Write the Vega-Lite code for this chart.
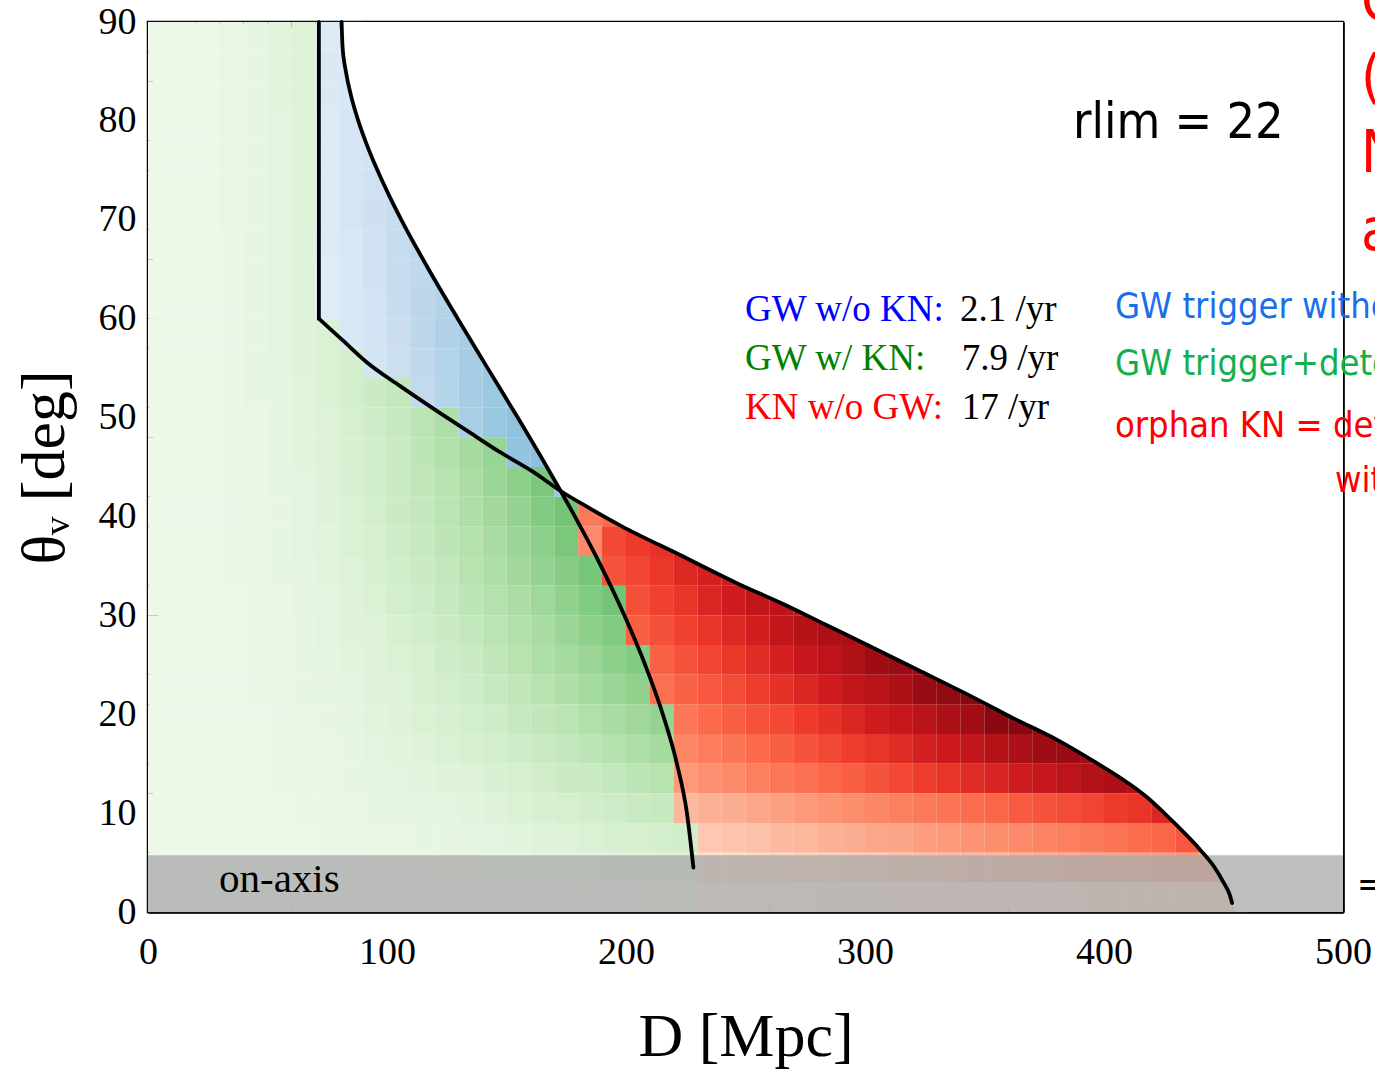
{
  "$schema": "https://vega.github.io/schema/vega-lite/v6.json",
  "width": 1195,
  "height": 890,
  "autosize": {"type": "none"},
  "padding": {"left": 148, "top": 22, "right": 32, "bottom": 169},
  "background": "white",
  "config": {
    "view": {"stroke": "black", "strokeWidth": 2.5},
    "axis": {
      "labelFont": "Liberation Serif",
      "labelFontSize": 38,
      "labelColor": "black",
      "titleFont": "Liberation Serif",
      "titleFontSize": 62,
      "titleFontWeight": "normal",
      "titleColor": "black",
      "tickColor": "black",
      "tickWidth": 1.5,
      "domain": true,
      "domainColor": "black",
      "domainWidth": 2.5,
      "zindex": 1,
      "grid": false,
      "labelOverlap": false
    }
  },
  "datasets": {
    "green": [
      {"d":5,"t":88.5,"v":3},{"d":15,"t":88.5,"v":3},{"d":25,"t":88.5,"v":4},{"d":35,"t":88.5,"v":6},{"d":45,"t":88.5,"v":7},{"d":55,"t":88.5,"v":10},{"d":65,"t":88.5,"v":12},
      {"d":5,"t":85.5,"v":3},{"d":15,"t":85.5,"v":3},{"d":25,"t":85.5,"v":4},{"d":35,"t":85.5,"v":6},{"d":45,"t":85.5,"v":7},{"d":55,"t":85.5,"v":10},{"d":65,"t":85.5,"v":12},
      {"d":5,"t":82.5,"v":3},{"d":15,"t":82.5,"v":3},{"d":25,"t":82.5,"v":4},{"d":35,"t":82.5,"v":6},{"d":45,"t":82.5,"v":7},{"d":55,"t":82.5,"v":10},{"d":65,"t":82.5,"v":12},
      {"d":5,"t":79.5,"v":3},{"d":15,"t":79.5,"v":3},{"d":25,"t":79.5,"v":4},{"d":35,"t":79.5,"v":6},{"d":45,"t":79.5,"v":7},{"d":55,"t":79.5,"v":9},{"d":65,"t":79.5,"v":12},
      {"d":5,"t":76.5,"v":3},{"d":15,"t":76.5,"v":3},{"d":25,"t":76.5,"v":4},{"d":35,"t":76.5,"v":6},{"d":45,"t":76.5,"v":7},{"d":55,"t":76.5,"v":9},{"d":65,"t":76.5,"v":12},
      {"d":5,"t":73.5,"v":3},{"d":15,"t":73.5,"v":3},{"d":25,"t":73.5,"v":4},{"d":35,"t":73.5,"v":6},{"d":45,"t":73.5,"v":7},{"d":55,"t":73.5,"v":9},{"d":65,"t":73.5,"v":12},
      {"d":5,"t":70.5,"v":3},{"d":15,"t":70.5,"v":3},{"d":25,"t":70.5,"v":4},{"d":35,"t":70.5,"v":6},{"d":45,"t":70.5,"v":7},{"d":55,"t":70.5,"v":9},{"d":65,"t":70.5,"v":12},
      {"d":5,"t":67.5,"v":3},{"d":15,"t":67.5,"v":3},{"d":25,"t":67.5,"v":4},{"d":35,"t":67.5,"v":5},{"d":45,"t":67.5,"v":7},{"d":55,"t":67.5,"v":9},{"d":65,"t":67.5,"v":11},
      {"d":5,"t":64.5,"v":3},{"d":15,"t":64.5,"v":3},{"d":25,"t":64.5,"v":4},{"d":35,"t":64.5,"v":5},{"d":45,"t":64.5,"v":7},{"d":55,"t":64.5,"v":9},{"d":65,"t":64.5,"v":11},
      {"d":5,"t":61.5,"v":3},{"d":15,"t":61.5,"v":3},{"d":25,"t":61.5,"v":4},{"d":35,"t":61.5,"v":5},{"d":45,"t":61.5,"v":7},{"d":55,"t":61.5,"v":9},{"d":65,"t":61.5,"v":11},
      {"d":5,"t":58.5,"v":3},{"d":15,"t":58.5,"v":3},{"d":25,"t":58.5,"v":4},{"d":35,"t":58.5,"v":5},{"d":45,"t":58.5,"v":7},{"d":55,"t":58.5,"v":9},{"d":65,"t":58.5,"v":11},{"d":75,"t":58.5,"v":13},
      {"d":5,"t":55.5,"v":3},{"d":15,"t":55.5,"v":3},{"d":25,"t":55.5,"v":4},{"d":35,"t":55.5,"v":5},{"d":45,"t":55.5,"v":7},{"d":55,"t":55.5,"v":8},{"d":65,"t":55.5,"v":11},{"d":75,"t":55.5,"v":13},{"d":85,"t":55.5,"v":16},
      {"d":5,"t":52.5,"v":3},{"d":15,"t":52.5,"v":3},{"d":25,"t":52.5,"v":4},{"d":35,"t":52.5,"v":5},{"d":45,"t":52.5,"v":7},{"d":55,"t":52.5,"v":8},{"d":65,"t":52.5,"v":10},{"d":75,"t":52.5,"v":13},{"d":85,"t":52.5,"v":16},{"d":95,"t":52.5,"v":19},{"d":105,"t":52.5,"v":22},
      {"d":5,"t":49.5,"v":3},{"d":15,"t":49.5,"v":3},{"d":25,"t":49.5,"v":4},{"d":35,"t":49.5,"v":5},{"d":45,"t":49.5,"v":6},{"d":55,"t":49.5,"v":8},{"d":65,"t":49.5,"v":10},{"d":75,"t":49.5,"v":12},{"d":85,"t":49.5,"v":15},{"d":95,"t":49.5,"v":18},{"d":105,"t":49.5,"v":21},{"d":115,"t":49.5,"v":25},{"d":125,"t":49.5,"v":29},
      {"d":5,"t":46.5,"v":3},{"d":15,"t":46.5,"v":3},{"d":25,"t":46.5,"v":4},{"d":35,"t":46.5,"v":5},{"d":45,"t":46.5,"v":6},{"d":55,"t":46.5,"v":8},{"d":65,"t":46.5,"v":10},{"d":75,"t":46.5,"v":12},{"d":85,"t":46.5,"v":14},{"d":95,"t":46.5,"v":17},{"d":105,"t":46.5,"v":20},{"d":115,"t":46.5,"v":24},{"d":125,"t":46.5,"v":28},{"d":135,"t":46.5,"v":32},{"d":145,"t":46.5,"v":36},
      {"d":5,"t":43.5,"v":3},{"d":15,"t":43.5,"v":3},{"d":25,"t":43.5,"v":4},{"d":35,"t":43.5,"v":5},{"d":45,"t":43.5,"v":6},{"d":55,"t":43.5,"v":8},{"d":65,"t":43.5,"v":9},{"d":75,"t":43.5,"v":11},{"d":85,"t":43.5,"v":14},{"d":95,"t":43.5,"v":17},{"d":105,"t":43.5,"v":20},{"d":115,"t":43.5,"v":23},{"d":125,"t":43.5,"v":26},{"d":135,"t":43.5,"v":30},{"d":145,"t":43.5,"v":35},{"d":155,"t":43.5,"v":39},{"d":165,"t":43.5,"v":44},
      {"d":5,"t":40.5,"v":3},{"d":15,"t":40.5,"v":3},{"d":25,"t":40.5,"v":4},{"d":35,"t":40.5,"v":5},{"d":45,"t":40.5,"v":6},{"d":55,"t":40.5,"v":7},{"d":65,"t":40.5,"v":9},{"d":75,"t":40.5,"v":11},{"d":85,"t":40.5,"v":13},{"d":95,"t":40.5,"v":16},{"d":105,"t":40.5,"v":19},{"d":115,"t":40.5,"v":22},{"d":125,"t":40.5,"v":25},{"d":135,"t":40.5,"v":29},{"d":145,"t":40.5,"v":33},{"d":155,"t":40.5,"v":37},{"d":165,"t":40.5,"v":42},{"d":175,"t":40.5,"v":46},
      {"d":5,"t":37.5,"v":3},{"d":15,"t":37.5,"v":3},{"d":25,"t":37.5,"v":4},{"d":35,"t":37.5,"v":5},{"d":45,"t":37.5,"v":6},{"d":55,"t":37.5,"v":7},{"d":65,"t":37.5,"v":9},{"d":75,"t":37.5,"v":10},{"d":85,"t":37.5,"v":13},{"d":95,"t":37.5,"v":15},{"d":105,"t":37.5,"v":18},{"d":115,"t":37.5,"v":21},{"d":125,"t":37.5,"v":24},{"d":135,"t":37.5,"v":27},{"d":145,"t":37.5,"v":31},{"d":155,"t":37.5,"v":35},{"d":165,"t":37.5,"v":39},{"d":175,"t":37.5,"v":44},
      {"d":5,"t":34.5,"v":3},{"d":15,"t":34.5,"v":3},{"d":25,"t":34.5,"v":4},{"d":35,"t":34.5,"v":5},{"d":45,"t":34.5,"v":6},{"d":55,"t":34.5,"v":7},{"d":65,"t":34.5,"v":8},{"d":75,"t":34.5,"v":10},{"d":85,"t":34.5,"v":12},{"d":95,"t":34.5,"v":14},{"d":105,"t":34.5,"v":17},{"d":115,"t":34.5,"v":19},{"d":125,"t":34.5,"v":22},{"d":135,"t":34.5,"v":26},{"d":145,"t":34.5,"v":29},{"d":155,"t":34.5,"v":33},{"d":165,"t":34.5,"v":37},{"d":175,"t":34.5,"v":41},{"d":185,"t":34.5,"v":45},
      {"d":5,"t":31.5,"v":3},{"d":15,"t":31.5,"v":3},{"d":25,"t":31.5,"v":4},{"d":35,"t":31.5,"v":4},{"d":45,"t":31.5,"v":5},{"d":55,"t":31.5,"v":6},{"d":65,"t":31.5,"v":8},{"d":75,"t":31.5,"v":9},{"d":85,"t":31.5,"v":11},{"d":95,"t":31.5,"v":13},{"d":105,"t":31.5,"v":16},{"d":115,"t":31.5,"v":18},{"d":125,"t":31.5,"v":21},{"d":135,"t":31.5,"v":24},{"d":145,"t":31.5,"v":27},{"d":155,"t":31.5,"v":30},{"d":165,"t":31.5,"v":34},{"d":175,"t":31.5,"v":38},{"d":185,"t":31.5,"v":42},{"d":195,"t":31.5,"v":46},
      {"d":5,"t":28.5,"v":3},{"d":15,"t":28.5,"v":3},{"d":25,"t":28.5,"v":4},{"d":35,"t":28.5,"v":4},{"d":45,"t":28.5,"v":5},{"d":55,"t":28.5,"v":6},{"d":65,"t":28.5,"v":7},{"d":75,"t":28.5,"v":9},{"d":85,"t":28.5,"v":11},{"d":95,"t":28.5,"v":12},{"d":105,"t":28.5,"v":14},{"d":115,"t":28.5,"v":17},{"d":125,"t":28.5,"v":19},{"d":135,"t":28.5,"v":22},{"d":145,"t":28.5,"v":25},{"d":155,"t":28.5,"v":28},{"d":165,"t":28.5,"v":31},{"d":175,"t":28.5,"v":35},{"d":185,"t":28.5,"v":39},{"d":195,"t":28.5,"v":42},
      {"d":5,"t":25.5,"v":3},{"d":15,"t":25.5,"v":3},{"d":25,"t":25.5,"v":4},{"d":35,"t":25.5,"v":4},{"d":45,"t":25.5,"v":5},{"d":55,"t":25.5,"v":6},{"d":65,"t":25.5,"v":7},{"d":75,"t":25.5,"v":8},{"d":85,"t":25.5,"v":10},{"d":95,"t":25.5,"v":11},{"d":105,"t":25.5,"v":13},{"d":115,"t":25.5,"v":15},{"d":125,"t":25.5,"v":18},{"d":135,"t":25.5,"v":20},{"d":145,"t":25.5,"v":23},{"d":155,"t":25.5,"v":26},{"d":165,"t":25.5,"v":29},{"d":175,"t":25.5,"v":32},{"d":185,"t":25.5,"v":35},{"d":195,"t":25.5,"v":39},{"d":205,"t":25.5,"v":42},
      {"d":5,"t":22.5,"v":3},{"d":15,"t":22.5,"v":3},{"d":25,"t":22.5,"v":4},{"d":35,"t":22.5,"v":4},{"d":45,"t":22.5,"v":5},{"d":55,"t":22.5,"v":6},{"d":65,"t":22.5,"v":7},{"d":75,"t":22.5,"v":8},{"d":85,"t":22.5,"v":9},{"d":95,"t":22.5,"v":11},{"d":105,"t":22.5,"v":12},{"d":115,"t":22.5,"v":14},{"d":125,"t":22.5,"v":16},{"d":135,"t":22.5,"v":18},{"d":145,"t":22.5,"v":21},{"d":155,"t":22.5,"v":23},{"d":165,"t":22.5,"v":26},{"d":175,"t":22.5,"v":29},{"d":185,"t":22.5,"v":32},{"d":195,"t":22.5,"v":35},{"d":205,"t":22.5,"v":38},
      {"d":5,"t":19.5,"v":3},{"d":15,"t":19.5,"v":3},{"d":25,"t":19.5,"v":3},{"d":35,"t":19.5,"v":4},{"d":45,"t":19.5,"v":4},{"d":55,"t":19.5,"v":5},{"d":65,"t":19.5,"v":6},{"d":75,"t":19.5,"v":7},{"d":85,"t":19.5,"v":8},{"d":95,"t":19.5,"v":10},{"d":105,"t":19.5,"v":11},{"d":115,"t":19.5,"v":13},{"d":125,"t":19.5,"v":14},{"d":135,"t":19.5,"v":16},{"d":145,"t":19.5,"v":18},{"d":155,"t":19.5,"v":21},{"d":165,"t":19.5,"v":23},{"d":175,"t":19.5,"v":25},{"d":185,"t":19.5,"v":28},{"d":195,"t":19.5,"v":31},{"d":205,"t":19.5,"v":34},{"d":215,"t":19.5,"v":37},
      {"d":5,"t":16.5,"v":3},{"d":15,"t":16.5,"v":3},{"d":25,"t":16.5,"v":3},{"d":35,"t":16.5,"v":4},{"d":45,"t":16.5,"v":4},{"d":55,"t":16.5,"v":5},{"d":65,"t":16.5,"v":6},{"d":75,"t":16.5,"v":6},{"d":85,"t":16.5,"v":7},{"d":95,"t":16.5,"v":9},{"d":105,"t":16.5,"v":10},{"d":115,"t":16.5,"v":11},{"d":125,"t":16.5,"v":13},{"d":135,"t":16.5,"v":14},{"d":145,"t":16.5,"v":16},{"d":155,"t":16.5,"v":18},{"d":165,"t":16.5,"v":20},{"d":175,"t":16.5,"v":22},{"d":185,"t":16.5,"v":24},{"d":195,"t":16.5,"v":27},{"d":205,"t":16.5,"v":29},{"d":215,"t":16.5,"v":32},
      {"d":5,"t":13.5,"v":3},{"d":15,"t":13.5,"v":3},{"d":25,"t":13.5,"v":3},{"d":35,"t":13.5,"v":4},{"d":45,"t":13.5,"v":4},{"d":55,"t":13.5,"v":5},{"d":65,"t":13.5,"v":5},{"d":75,"t":13.5,"v":6},{"d":85,"t":13.5,"v":7},{"d":95,"t":13.5,"v":8},{"d":105,"t":13.5,"v":9},{"d":115,"t":13.5,"v":10},{"d":125,"t":13.5,"v":11},{"d":135,"t":13.5,"v":12},{"d":145,"t":13.5,"v":14},{"d":155,"t":13.5,"v":15},{"d":165,"t":13.5,"v":17},{"d":175,"t":13.5,"v":19},{"d":185,"t":13.5,"v":20},{"d":195,"t":13.5,"v":22},{"d":205,"t":13.5,"v":24},{"d":215,"t":13.5,"v":26},
      {"d":5,"t":10.5,"v":3},{"d":15,"t":10.5,"v":3},{"d":25,"t":10.5,"v":3},{"d":35,"t":10.5,"v":3},{"d":45,"t":10.5,"v":4},{"d":55,"t":10.5,"v":4},{"d":65,"t":10.5,"v":5},{"d":75,"t":10.5,"v":5},{"d":85,"t":10.5,"v":6},{"d":95,"t":10.5,"v":7},{"d":105,"t":10.5,"v":7},{"d":115,"t":10.5,"v":8},{"d":125,"t":10.5,"v":9},{"d":135,"t":10.5,"v":10},{"d":145,"t":10.5,"v":11},{"d":155,"t":10.5,"v":13},{"d":165,"t":10.5,"v":14},{"d":175,"t":10.5,"v":15},{"d":185,"t":10.5,"v":17},{"d":195,"t":10.5,"v":18},{"d":205,"t":10.5,"v":20},{"d":215,"t":10.5,"v":21},
      {"d":5,"t":7.5,"v":3},{"d":15,"t":7.5,"v":3},{"d":25,"t":7.5,"v":3},{"d":35,"t":7.5,"v":3},{"d":45,"t":7.5,"v":4},{"d":55,"t":7.5,"v":4},{"d":65,"t":7.5,"v":4},{"d":75,"t":7.5,"v":5},{"d":85,"t":7.5,"v":5},{"d":95,"t":7.5,"v":6},{"d":105,"t":7.5,"v":6},{"d":115,"t":7.5,"v":7},{"d":125,"t":7.5,"v":7},{"d":135,"t":7.5,"v":8},{"d":145,"t":7.5,"v":9},{"d":155,"t":7.5,"v":10},{"d":165,"t":7.5,"v":11},{"d":175,"t":7.5,"v":12},{"d":185,"t":7.5,"v":13},{"d":195,"t":7.5,"v":14},{"d":205,"t":7.5,"v":15},{"d":215,"t":7.5,"v":16},{"d":225,"t":7.5,"v":17},
      {"d":5,"t":4.5,"v":3},{"d":15,"t":4.5,"v":3},{"d":25,"t":4.5,"v":3},{"d":35,"t":4.5,"v":3},{"d":45,"t":4.5,"v":3},{"d":55,"t":4.5,"v":4},{"d":65,"t":4.5,"v":4},{"d":75,"t":4.5,"v":4},{"d":85,"t":4.5,"v":4},{"d":95,"t":4.5,"v":5},{"d":105,"t":4.5,"v":5},{"d":115,"t":4.5,"v":5},{"d":125,"t":4.5,"v":6},{"d":135,"t":4.5,"v":6},{"d":145,"t":4.5,"v":7},{"d":155,"t":4.5,"v":7},{"d":165,"t":4.5,"v":8},{"d":175,"t":4.5,"v":8},{"d":185,"t":4.5,"v":9},{"d":195,"t":4.5,"v":10},{"d":205,"t":4.5,"v":10},{"d":215,"t":4.5,"v":11},{"d":225,"t":4.5,"v":12},
      {"d":5,"t":1.5,"v":3},{"d":15,"t":1.5,"v":3},{"d":25,"t":1.5,"v":3},{"d":35,"t":1.5,"v":3},{"d":45,"t":1.5,"v":3},{"d":55,"t":1.5,"v":3},{"d":65,"t":1.5,"v":3},{"d":75,"t":1.5,"v":3},{"d":85,"t":1.5,"v":3},{"d":95,"t":1.5,"v":4},{"d":105,"t":1.5,"v":4},{"d":115,"t":1.5,"v":4},{"d":125,"t":1.5,"v":4},{"d":135,"t":1.5,"v":4},{"d":145,"t":1.5,"v":4},{"d":155,"t":1.5,"v":4},{"d":165,"t":1.5,"v":5},{"d":175,"t":1.5,"v":5},{"d":185,"t":1.5,"v":5},{"d":195,"t":1.5,"v":5},{"d":205,"t":1.5,"v":5},{"d":215,"t":1.5,"v":6},{"d":225,"t":1.5,"v":6}
    ],
    "blue": [
      {"d":75,"t":88.5,"v":13},{"d":85,"t":88.5,"v":14},
      {"d":75,"t":85.5,"v":14},{"d":85,"t":85.5,"v":15},
      {"d":75,"t":82.5,"v":14},{"d":85,"t":82.5,"v":16},
      {"d":75,"t":79.5,"v":13},{"d":85,"t":79.5,"v":17},{"d":95,"t":79.5,"v":18},
      {"d":75,"t":76.5,"v":13},{"d":85,"t":76.5,"v":17},{"d":95,"t":76.5,"v":19},
      {"d":75,"t":73.5,"v":13},{"d":85,"t":73.5,"v":17},{"d":95,"t":73.5,"v":20},{"d":105,"t":73.5,"v":22},
      {"d":75,"t":70.5,"v":13},{"d":85,"t":70.5,"v":17},{"d":95,"t":70.5,"v":21},{"d":105,"t":70.5,"v":24},
      {"d":75,"t":67.5,"v":13},{"d":85,"t":67.5,"v":16},{"d":95,"t":67.5,"v":20},{"d":105,"t":67.5,"v":24},{"d":115,"t":67.5,"v":27},
      {"d":75,"t":64.5,"v":12},{"d":85,"t":64.5,"v":16},{"d":95,"t":64.5,"v":20},{"d":105,"t":64.5,"v":24},{"d":115,"t":64.5,"v":27},{"d":125,"t":64.5,"v":30},
      {"d":75,"t":61.5,"v":12},{"d":85,"t":61.5,"v":15},{"d":95,"t":61.5,"v":19},{"d":105,"t":61.5,"v":24},{"d":115,"t":61.5,"v":28},{"d":125,"t":61.5,"v":31},
      {"d":85,"t":58.5,"v":15},{"d":95,"t":58.5,"v":19},{"d":105,"t":58.5,"v":23},{"d":115,"t":58.5,"v":28},{"d":125,"t":58.5,"v":32},{"d":135,"t":58.5,"v":35},
      {"d":95,"t":55.5,"v":18},{"d":105,"t":55.5,"v":22},{"d":115,"t":55.5,"v":27},{"d":125,"t":55.5,"v":31},{"d":135,"t":55.5,"v":35},{"d":145,"t":55.5,"v":38},
      {"d":115,"t":52.5,"v":26},{"d":125,"t":52.5,"v":30},{"d":135,"t":52.5,"v":35},{"d":145,"t":52.5,"v":38},{"d":155,"t":52.5,"v":40},
      {"d":135,"t":49.5,"v":34},{"d":145,"t":49.5,"v":39},{"d":155,"t":49.5,"v":41},
      {"d":155,"t":46.5,"v":40},{"d":165,"t":46.5,"v":42},
      {"d":175,"t":43.5,"v":38}
    ],
    "red": [
      {"d":185,"t":40.5,"v":45},{"d":195,"t":40.5,"v":50},
      {"d":185,"t":37.5,"v":40},{"d":195,"t":37.5,"v":59},{"d":205,"t":37.5,"v":63},{"d":215,"t":37.5,"v":66},{"d":225,"t":37.5,"v":68},
      {"d":195,"t":34.5,"v":56},{"d":205,"t":34.5,"v":60},{"d":215,"t":34.5,"v":64},{"d":225,"t":34.5,"v":69},{"d":235,"t":34.5,"v":72},{"d":245,"t":34.5,"v":74},
      {"d":205,"t":31.5,"v":57},{"d":215,"t":31.5,"v":61},{"d":225,"t":31.5,"v":65},{"d":235,"t":31.5,"v":70},{"d":245,"t":31.5,"v":74},{"d":255,"t":31.5,"v":78},{"d":265,"t":31.5,"v":80},{"d":275,"t":31.5,"v":80},
      {"d":205,"t":28.5,"v":53},{"d":215,"t":28.5,"v":57},{"d":225,"t":28.5,"v":61},{"d":235,"t":28.5,"v":65},{"d":245,"t":28.5,"v":69},{"d":255,"t":28.5,"v":73},{"d":265,"t":28.5,"v":78},{"d":275,"t":28.5,"v":82},{"d":285,"t":28.5,"v":85},{"d":295,"t":28.5,"v":86},{"d":305,"t":28.5,"v":86},
      {"d":215,"t":25.5,"v":52},{"d":225,"t":25.5,"v":56},{"d":235,"t":25.5,"v":60},{"d":245,"t":25.5,"v":64},{"d":255,"t":25.5,"v":68},{"d":265,"t":25.5,"v":72},{"d":275,"t":25.5,"v":76},{"d":285,"t":25.5,"v":80},{"d":295,"t":25.5,"v":84},{"d":305,"t":25.5,"v":89},{"d":315,"t":25.5,"v":90},{"d":325,"t":25.5,"v":90},
      {"d":215,"t":22.5,"v":48},{"d":225,"t":22.5,"v":52},{"d":235,"t":22.5,"v":55},{"d":245,"t":22.5,"v":58},{"d":255,"t":22.5,"v":62},{"d":265,"t":22.5,"v":66},{"d":275,"t":22.5,"v":70},{"d":285,"t":22.5,"v":74},{"d":295,"t":22.5,"v":78},{"d":305,"t":22.5,"v":81},{"d":315,"t":22.5,"v":85},{"d":325,"t":22.5,"v":90},{"d":335,"t":22.5,"v":92},{"d":345,"t":22.5,"v":93},{"d":355,"t":22.5,"v":92},
      {"d":225,"t":19.5,"v":46},{"d":235,"t":19.5,"v":50},{"d":245,"t":19.5,"v":53},{"d":255,"t":19.5,"v":56},{"d":265,"t":19.5,"v":59},{"d":275,"t":19.5,"v":63},{"d":285,"t":19.5,"v":66},{"d":295,"t":19.5,"v":70},{"d":305,"t":19.5,"v":74},{"d":315,"t":19.5,"v":77},{"d":325,"t":19.5,"v":81},{"d":335,"t":19.5,"v":85},{"d":345,"t":19.5,"v":88},{"d":355,"t":19.5,"v":93},{"d":365,"t":19.5,"v":93},{"d":375,"t":19.5,"v":92},
      {"d":225,"t":16.5,"v":41},{"d":235,"t":16.5,"v":44},{"d":245,"t":16.5,"v":47},{"d":255,"t":16.5,"v":50},{"d":265,"t":16.5,"v":53},{"d":275,"t":16.5,"v":56},{"d":285,"t":16.5,"v":59},{"d":295,"t":16.5,"v":62},{"d":305,"t":16.5,"v":65},{"d":315,"t":16.5,"v":68},{"d":325,"t":16.5,"v":72},{"d":335,"t":16.5,"v":75},{"d":345,"t":16.5,"v":78},{"d":355,"t":16.5,"v":82},{"d":365,"t":16.5,"v":85},{"d":375,"t":16.5,"v":89},{"d":385,"t":16.5,"v":90},{"d":395,"t":16.5,"v":88},
      {"d":225,"t":13.5,"v":35},{"d":235,"t":13.5,"v":38},{"d":245,"t":13.5,"v":40},{"d":255,"t":13.5,"v":43},{"d":265,"t":13.5,"v":46},{"d":275,"t":13.5,"v":48},{"d":285,"t":13.5,"v":51},{"d":295,"t":13.5,"v":53},{"d":305,"t":13.5,"v":56},{"d":315,"t":13.5,"v":59},{"d":325,"t":13.5,"v":62},{"d":335,"t":13.5,"v":65},{"d":345,"t":13.5,"v":68},{"d":355,"t":13.5,"v":71},{"d":365,"t":13.5,"v":74},{"d":375,"t":13.5,"v":77},{"d":385,"t":13.5,"v":80},{"d":395,"t":13.5,"v":83},{"d":405,"t":13.5,"v":85},{"d":415,"t":13.5,"v":84},
      {"d":225,"t":10.5,"v":26},{"d":235,"t":10.5,"v":28},{"d":245,"t":10.5,"v":29},{"d":255,"t":10.5,"v":31},{"d":265,"t":10.5,"v":33},{"d":275,"t":10.5,"v":35},{"d":285,"t":10.5,"v":37},{"d":295,"t":10.5,"v":39},{"d":305,"t":10.5,"v":41},{"d":315,"t":10.5,"v":43},{"d":325,"t":10.5,"v":45},{"d":335,"t":10.5,"v":47},{"d":345,"t":10.5,"v":49},{"d":355,"t":10.5,"v":51},{"d":365,"t":10.5,"v":54},{"d":375,"t":10.5,"v":56},{"d":385,"t":10.5,"v":58},{"d":395,"t":10.5,"v":60},{"d":405,"t":10.5,"v":63},{"d":415,"t":10.5,"v":65},{"d":425,"t":10.5,"v":70},
      {"d":235,"t":7.5,"v":21},{"d":245,"t":7.5,"v":22},{"d":255,"t":7.5,"v":23},{"d":265,"t":7.5,"v":25},{"d":275,"t":7.5,"v":26},{"d":285,"t":7.5,"v":28},{"d":295,"t":7.5,"v":29},{"d":305,"t":7.5,"v":31},{"d":315,"t":7.5,"v":32},{"d":325,"t":7.5,"v":34},{"d":335,"t":7.5,"v":35},{"d":345,"t":7.5,"v":37},{"d":355,"t":7.5,"v":39},{"d":365,"t":7.5,"v":40},{"d":375,"t":7.5,"v":42},{"d":385,"t":7.5,"v":43},{"d":395,"t":7.5,"v":45},{"d":405,"t":7.5,"v":47},{"d":415,"t":7.5,"v":49},{"d":425,"t":7.5,"v":51},{"d":435,"t":7.5,"v":55},{"d":445,"t":7.5,"v":55},
      {"d":235,"t":4.5,"v":14},{"d":245,"t":4.5,"v":15},{"d":255,"t":4.5,"v":16},{"d":265,"t":4.5,"v":17},{"d":275,"t":4.5,"v":18},{"d":285,"t":4.5,"v":19},{"d":295,"t":4.5,"v":20},{"d":305,"t":4.5,"v":21},{"d":315,"t":4.5,"v":23},{"d":325,"t":4.5,"v":23},{"d":335,"t":4.5,"v":25},{"d":345,"t":4.5,"v":26},{"d":355,"t":4.5,"v":26},{"d":365,"t":4.5,"v":28},{"d":375,"t":4.5,"v":29},{"d":385,"t":4.5,"v":30},{"d":395,"t":4.5,"v":31},{"d":405,"t":4.5,"v":32},{"d":415,"t":4.5,"v":33},{"d":425,"t":4.5,"v":34},{"d":435,"t":4.5,"v":36},{"d":445,"t":4.5,"v":34},
      {"d":235,"t":1.5,"v":6},{"d":245,"t":1.5,"v":7},{"d":255,"t":1.5,"v":7},{"d":265,"t":1.5,"v":8},{"d":275,"t":1.5,"v":8},{"d":285,"t":1.5,"v":9},{"d":295,"t":1.5,"v":9},{"d":305,"t":1.5,"v":9},{"d":315,"t":1.5,"v":10},{"d":325,"t":1.5,"v":10},{"d":335,"t":1.5,"v":11},{"d":345,"t":1.5,"v":11},{"d":355,"t":1.5,"v":11},{"d":365,"t":1.5,"v":12},{"d":375,"t":1.5,"v":12},{"d":385,"t":1.5,"v":13},{"d":395,"t":1.5,"v":14},{"d":405,"t":1.5,"v":14},{"d":415,"t":1.5,"v":14},{"d":425,"t":1.5,"v":15},{"d":435,"t":1.5,"v":16},{"d":445,"t":1.5,"v":16},{"d":455,"t":1.5,"v":16}
    ],
    "mask": [
      {"t":0,"d":455,"d2":500},{"t":0.9,"d":453.6,"d2":500},{"t":1.8,"d":452.5,"d2":500},{"t":3.0,"d":450,"d2":500},{"t":4.6,"d":446,"d2":500},{"t":6.3,"d":440.2,"d2":500},{"t":7.9,"d":434,"d2":500},{"t":10.0,"d":425.2,"d2":500},{"t":11.6,"d":418,"d2":500},{"t":13.0,"d":410.3,"d2":500},{"t":15.3,"d":395.3,"d2":500},{"t":17.4,"d":380.4,"d2":500},{"t":19.6,"d":362,"d2":500},{"t":21.8,"d":344.5,"d2":500},{"t":24.5,"d":322,"d2":500},{"t":26.8,"d":302.7,"d2":500},{"t":29.0,"d":284,"d2":500},{"t":31.2,"d":265.3,"d2":500},{"t":33.1,"d":247.7,"d2":500},{"t":36.1,"d":222.6,"d2":500},{"t":39.1,"d":197.5,"d2":500},{"t":40.8,"d":185,"d2":500},{"t":42.6,"d":172.6,"d2":500},{"t":45,"d":166.9,"d2":500},{"t":50,"d":154.7,"d2":500},{"t":55,"d":142.1,"d2":500},{"t":60,"d":129.6,"d2":500},{"t":65,"d":117.4,"d2":500},{"t":70,"d":106.0,"d2":500},{"t":72.5,"d":100.8,"d2":500},{"t":75,"d":96.0,"d2":500},{"t":77.5,"d":91.7,"d2":500},{"t":80,"d":88.0,"d2":500},{"t":82.5,"d":85.0,"d2":500},{"t":85,"d":82.8,"d2":500},{"t":87.5,"d":81.4,"d2":500},{"t":90,"d":81.0,"d2":500}
    ],
    "vert": [{"i":0,"d":71.5,"t":90},{"i":1,"d":71.5,"t":60}],
    "kn": [
      {"i":0,"d":71.5,"t":60},{"i":1,"d":81.5,"t":57.8},{"i":2,"d":91.5,"t":55.6},{"i":3,"d":105.4,"t":53.2},{"i":4,"d":119.4,"t":50.9},{"i":5,"d":133.3,"t":48.7},{"i":6,"d":147.3,"t":46.5},{"i":7,"d":161.2,"t":44.5},{"i":8,"d":172.5,"t":42.6},{"i":9,"d":185,"t":40.8},{"i":10,"d":197.5,"t":39.1},{"i":11,"d":222.6,"t":36.1},{"i":12,"d":247.7,"t":33.1},{"i":13,"d":265.3,"t":31.2},{"i":14,"d":284,"t":29.0},{"i":15,"d":302.7,"t":26.8},{"i":16,"d":322,"t":24.5},{"i":17,"d":344.5,"t":21.8},{"i":18,"d":362,"t":19.6},{"i":19,"d":380.4,"t":17.4},{"i":20,"d":395.3,"t":15.3},{"i":21,"d":410.3,"t":13.0},{"i":22,"d":418,"t":11.6},{"i":23,"d":425.2,"t":10.0},{"i":24,"d":434,"t":7.9},{"i":25,"d":440.2,"t":6.3},{"i":26,"d":446,"t":4.6},{"i":27,"d":450,"t":3.0},{"i":28,"d":452.5,"t":1.8},{"i":29,"d":453.6,"t":0.9}
    ],
    "gw": [
      {"i":0,"d":81.0,"t":90},{"i":1,"d":81.4,"t":87.5},{"i":2,"d":82.8,"t":85},{"i":3,"d":85.0,"t":82.5},{"i":4,"d":88.0,"t":80},{"i":5,"d":91.7,"t":77.5},{"i":6,"d":96.0,"t":75},{"i":7,"d":100.8,"t":72.5},{"i":8,"d":106.0,"t":70},{"i":9,"d":117.4,"t":65},{"i":10,"d":129.6,"t":60},{"i":11,"d":142.1,"t":55},{"i":12,"d":154.7,"t":50},{"i":13,"d":166.9,"t":45},{"i":14,"d":178.6,"t":40},{"i":15,"d":189.5,"t":35},{"i":16,"d":199.3,"t":30},{"i":17,"d":208.0,"t":25},{"i":18,"d":215.4,"t":20},{"i":19,"d":221.3,"t":15},{"i":20,"d":225.5,"t":10},{"i":21,"d":228.2,"t":4.5}
    ]
  },
  "resolve": {"axis": {"x": "independent", "y": "independent"}},
  "layer": [
    {
      "encoding": {
        "x": {"field": "d", "type": "quantitative", "scale": {"domain": [0, 500], "nice": false, "zero": false},
              "axis": {"orient": "top", "values": [0,20,40,60,80,100,120,140,160,180,200,220,240,260,280,300,320,340,360,380,400,420,440,460,480,500], "labels": false, "title": null,
                       "tickSize": {"condition": {"test": "datum.value % 100 === 0", "value": -10}, "value": -5}}},
        "y": {"field": "t", "type": "quantitative", "scale": {"domain": [0, 90], "nice": false, "zero": false},
              "axis": {"orient": "right", "values": [0,2,4,6,8,10,12,14,16,18,20,22,24,26,28,30,32,34,36,38,40,42,44,46,48,50,52,54,56,58,60,62,64,66,68,70,72,74,76,78,80,82,84,86,88,90], "labels": false, "title": null,
                       "tickSize": {"condition": {"test": "datum.value % 10 === 0", "value": -10}, "value": -5}}}
      },
      "resolve": {"scale": {"color": "independent"}},
      "layer": [
        {"data": {"name": "green"},
         "mark": {"type": "point", "shape": "M-1,-1.2414H1V1.2414H-1Z", "size": 576, "filled": true, "opacity": 1, "strokeWidth": 0},
         "encoding": {"color": {"field": "v", "type": "quantitative", "legend": null,
           "scale": {"domain": [-4,8.5,21,33.5,46,58.5,71,83.5,96], "range": ["#f7fcf5","#e5f5e0","#c7e9c0","#a1d99b","#74c476","#41ab5d","#238b45","#006d2c","#00441b"], "interpolate": "rgb"}}}},
        {"data": {"name": "blue"},
         "mark": {"type": "point", "shape": "M-1,-1.2414H1V1.2414H-1Z", "size": 576, "filled": true, "opacity": 1, "strokeWidth": 0},
         "encoding": {"color": {"field": "v", "type": "quantitative", "legend": null,
           "scale": {"domain": [0,12.5,25,37.5,50,62.5,75,87.5,100], "range": ["#f7fbff","#deebf7","#c6dbef","#9ecae1","#6baed6","#4292c6","#2171b5","#08519c","#08306b"], "interpolate": "rgb"}}}},
        {"data": {"name": "red"},
         "mark": {"type": "point", "shape": "M-1,-1.2414H1V1.2414H-1Z", "size": 576, "filled": true, "opacity": 1, "strokeWidth": 0},
         "encoding": {"color": {"field": "v", "type": "quantitative", "legend": null,
           "scale": {"domain": [0,12.5,25,37.5,50,62.5,75,87.5,100], "range": ["#fff5f0","#fee0d2","#fcbba1","#fc9272","#fb6a4a","#ef3b2c","#cb181d","#a50f15","#67000d"], "interpolate": "rgb"}}}}
      ]
    },
    {
      "encoding": {
        "x": {"field": "d", "type": "quantitative", "scale": {"domain": [0, 500], "nice": false, "zero": false},
              "axis": {"orient": "bottom", "values": [0,20,40,60,80,100,120,140,160,180,200,220,240,260,280,300,320,340,360,380,400,420,440,460,480,500],
                       "labelExpr": "datum.value % 100 === 0 ? datum.label : ''", "labelFlush": false, "labelPadding": 31,
                       "tickSize": {"condition": {"test": "datum.value % 100 === 0", "value": -10}, "value": -5},
                       "title": "D [Mpc]", "titlePadding": 30}},
        "y": {"field": "t", "type": "quantitative", "scale": {"domain": [0, 90], "nice": false, "zero": false},
              "axis": {"orient": "left", "values": [0,2,4,6,8,10,12,14,16,18,20,22,24,26,28,30,32,34,36,38,40,42,44,46,48,50,52,54,56,58,60,62,64,66,68,70,72,74,76,78,80,82,84,86,88,90],
                       "labelExpr": "datum.value % 10 === 0 ? datum.label : ''", "labelFlush": false, "labelPadding": 22,
                       "tickSize": {"condition": {"test": "datum.value % 10 === 0", "value": -10}, "value": -5},
                       "title": "θᵥ [deg]", "titlePadding": 22}}
      },
      "layer": [
        {"data": {"name": "mask"},
         "mark": {"type": "area", "orient": "horizontal", "color": "white", "opacity": 1},
         "encoding": {"x2": {"field": "d2"}}},
        {"data": {"values": [{"d": 0, "d2": 500, "t": 0, "t2": 5.73}]},
         "mark": {"type": "rect", "color": "#a8a8a8", "opacity": 0.75},
         "encoding": {"x2": {"field": "d2"}, "y2": {"field": "t2"}}},
        {"data": {"name": "vert"},
         "mark": {"type": "line", "color": "black", "strokeWidth": 3.8, "strokeCap": "round"},
         "encoding": {"order": {"field": "i", "type": "quantitative"}}},
        {"data": {"name": "kn"},
         "mark": {"type": "line", "color": "black", "strokeWidth": 3.8, "strokeCap": "round", "interpolate": "monotone"},
         "encoding": {"order": {"field": "i", "type": "quantitative"}}},
        {"data": {"name": "gw"},
         "mark": {"type": "line", "color": "black", "strokeWidth": 3.8, "strokeCap": "round", "interpolate": "monotone"},
         "encoding": {"order": {"field": "i", "type": "quantitative"}}},
        {"data": {"values": [{"d": 387, "t": 78.3, "s": "rlim = 22"}]},
         "mark": {"type": "text", "font": "DejaVu Sans Condensed, Liberation Sans Narrow, sans-serif", "fontSize": 50, "align": "left", "baseline": "alphabetic", "color": "black"},
         "encoding": {"text": {"field": "s", "type": "nominal"}}},
        {"data": {"values": [{"d": 249.8, "t": 59.76, "s": "GW w/o KN:"}]},
         "mark": {"type": "text", "font": "Liberation Serif", "fontSize": 37, "align": "left", "baseline": "alphabetic", "color": "#0000ff"},
         "encoding": {"text": {"field": "s", "type": "nominal"}}},
        {"data": {"values": [{"d": 249.8, "t": 54.8, "s": "GW w/ KN:"}]},
         "mark": {"type": "text", "font": "Liberation Serif", "fontSize": 37, "align": "left", "baseline": "alphabetic", "color": "#008000"},
         "encoding": {"text": {"field": "s", "type": "nominal"}}},
        {"data": {"values": [{"d": 249.8, "t": 49.85, "s": "KN w/o GW:"}]},
         "mark": {"type": "text", "font": "Liberation Serif", "fontSize": 37, "align": "left", "baseline": "alphabetic", "color": "#ff0000"},
         "encoding": {"text": {"field": "s", "type": "nominal"}}},
        {"data": {"values": [{"d": 339.7, "t": 59.76, "s": "2.1 /yr"}, {"d": 340.5, "t": 54.8, "s": "7.9 /yr"}, {"d": 340.5, "t": 49.85, "s": "17 /yr"}]},
         "mark": {"type": "text", "font": "Liberation Serif", "fontSize": 37, "align": "left", "baseline": "alphabetic", "color": "black"},
         "encoding": {"text": {"field": "s", "type": "nominal"}}},
        {"data": {"values": [{"d": 29.7, "t": 2.0, "s": "on-axis"}]},
         "mark": {"type": "text", "font": "Liberation Serif", "fontSize": 41, "align": "left", "baseline": "alphabetic", "color": "black"},
         "encoding": {"text": {"field": "s", "type": "nominal"}}},
        {"data": {"values": [{"d": 404.6, "t": 60.07, "s": "GW trigger without KN"}]},
         "mark": {"type": "text", "font": "DejaVu Sans Condensed, Liberation Sans Narrow, sans-serif", "fontSize": 36, "align": "left", "baseline": "alphabetic", "color": "#1a6fe8"},
         "encoding": {"text": {"field": "s", "type": "nominal"}}},
        {"data": {"values": [{"d": 404.6, "t": 54.3, "s": "GW trigger+detection"}]},
         "mark": {"type": "text", "font": "DejaVu Sans Condensed, Liberation Sans Narrow, sans-serif", "fontSize": 36, "align": "left", "baseline": "alphabetic", "color": "#10b04c"},
         "encoding": {"text": {"field": "s", "type": "nominal"}}},
        {"data": {"values": [{"d": 404.6, "t": 48.0, "s": "orphan KN = detection"}, {"d": 496.7, "t": 42.5, "s": "without GW trigger"}]},
         "mark": {"type": "text", "font": "DejaVu Sans Condensed, Liberation Sans Narrow, sans-serif", "fontSize": 36, "align": "left", "baseline": "alphabetic", "color": "#ff0000"},
         "encoding": {"text": {"field": "s", "type": "nominal"}}},
        {"data": {"values": [{"d": 507.5, "t": 90.2, "s": "Compare"}, {"d": 507.5, "t": 82.4, "s": "("}, {"d": 507.5, "t": 74.8, "s": "N"}, {"d": 507.5, "t": 66.9, "s": "and"}]},
         "mark": {"type": "text", "font": "DejaVu Sans Condensed, Liberation Sans Narrow, sans-serif", "fontSize": 58, "align": "left", "baseline": "alphabetic", "color": "#ff0000"},
         "encoding": {"text": {"field": "s", "type": "nominal"}}},
        {"data": {"values": [{"d": 505.9, "t": 1.6, "s": "="}]},
         "mark": {"type": "text", "font": "DejaVu Sans Condensed, Liberation Sans Narrow, sans-serif", "fontSize": 36, "align": "left", "baseline": "alphabetic", "color": "black"},
         "encoding": {"text": {"field": "s", "type": "nominal"}}}
      ]
    }
  ]
}
